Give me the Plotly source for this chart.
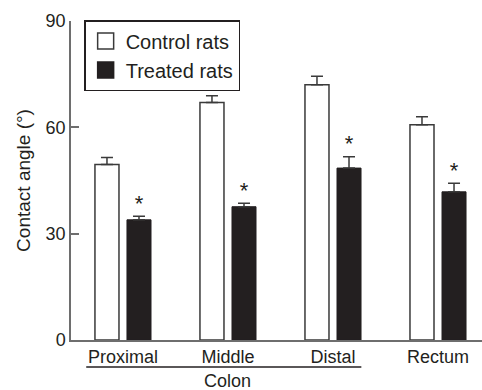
import plotly.graph_objects as go

categories = ["Proximal", "Middle", "Distal", "Rectum"]
control = [49.5, 67.0, 72.0, 60.7]
control_err = [2.0, 1.9, 2.4, 2.3]
treated = [33.9, 37.6, 48.5, 41.8]
treated_err = [1.0, 1.0, 3.2, 2.4]
y_ticks = [0, 30, 60, 90]
series_names = ["Control rats", "Treated rats"]
group_label = "Colon"
y_title = "Contact angle (°)"

xpos = list(range(len(categories)))
FONT = "Liberation Sans, Arial, Helvetica, sans-serif"
INK = "#231f20"
AXIS = "#6e6e6e"

fig = go.Figure()
fig.add_trace(go.Bar(
    x=xpos, y=control, name=series_names[0], showlegend=False,
    marker=dict(color="white", line=dict(color="#3a3a3a", width=1.5)),
    error_y=dict(type="data", array=control_err, symmetric=False, arrayminus=[0]*4,
                 color="#3a3a3a", thickness=1.5, width=6),
))
fig.add_trace(go.Bar(
    x=xpos, y=treated, name=series_names[1], showlegend=False,
    marker=dict(color=INK, line=dict(color=INK, width=1)),
    error_y=dict(type="data", array=treated_err, symmetric=False, arrayminus=[0]*4,
                 color="#3a3a3a", thickness=1.5, width=6),
))
# significance asterisks above treated bars
fig.add_trace(go.Scatter(
    x=[p + 0.152 for p in xpos], y=[v + e for v, e in zip(treated, treated_err)],
    mode="text", text=["*"] * 4, textposition="top center",
    textfont=dict(size=22, color=INK, family=FONT), showlegend=False, hoverinfo="skip",
))
# legend entries
fig.add_trace(go.Scatter(
    x=[None], y=[None], mode="markers", name=series_names[0],
    marker=dict(symbol="square", size=16, color="white", line=dict(color="#3a3a3a", width=1.5)),
))
fig.add_trace(go.Scatter(
    x=[None], y=[None], mode="markers", name=series_names[1],
    marker=dict(symbol="square", size=16, color=INK, line=dict(color=INK, width=1.5)),
))

fig.update_layout(
    width=482, height=390,
    margin=dict(l=71, r=0, t=21, b=50, autoexpand=False),
    plot_bgcolor="white", paper_bgcolor="white",
    barmode="group", bargap=0.39, bargroupgap=0.25,
    font=dict(family=FONT, size=18, color=INK),
    xaxis=dict(
        range=[-0.495, 3.419], tickmode="array", tickvals=xpos, ticktext=categories,
        showline=True, linecolor=AXIS, linewidth=1.5, ticks="", showgrid=False,
        zeroline=False, tickfont=dict(size=18, color=INK), automargin=False,
    ),
    yaxis=dict(
        range=[0, 90], tickvals=y_ticks, showline=True, linecolor=AXIS, linewidth=1.5,
        ticks="inside", ticklen=8, tickwidth=1.5, tickcolor=AXIS, showgrid=False,
        zeroline=False, tickfont=dict(size=18, color=INK), automargin=False,
        title=dict(text=y_title, font=dict(size=19, color=INK), standoff=10),
    ),
    legend=dict(
        x=0.032, y=1.003, xanchor="left", yanchor="top",
        bordercolor=INK, borderwidth=1.5, bgcolor="white",
        font=dict(size=20, color=INK), itemsizing="trace", tracegroupgap=0,
    ),
    shapes=[dict(type="line", xref="x", yref="paper", x0=-0.35, x1=2.27,
                 y0=-0.085, y1=-0.085, line=dict(color=INK, width=1.5))],
    annotations=[dict(text=group_label, xref="x", yref="paper", x=1.0, y=-0.13,
                      xanchor="center", yanchor="middle", showarrow=False,
                      font=dict(size=18, color=INK))],
)

fig.write_html("out.html", config={"displayModeBar": False},
               post_script="document.body.style.margin='0';document.body.style.overflow='hidden';")
